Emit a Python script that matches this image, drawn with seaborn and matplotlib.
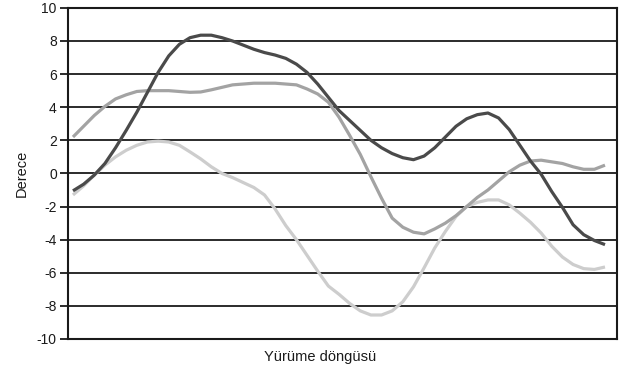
import matplotlib
matplotlib.use("Agg")
import matplotlib.pyplot as plt
import seaborn as sns
import pandas as pd

# gait cycle (%) sample positions
cycle = list(range(0, 101, 2))

dark = [-1.05, -0.65, -0.1, 0.6, 1.55, 2.6, 3.7, 4.9, 6.1, 7.1,
        7.8, 8.2, 8.35, 8.35, 8.2, 8.0, 7.75, 7.5, 7.3, 7.15,
        6.95, 6.6, 6.1, 5.4, 4.6, 3.8, 3.2, 2.6, 2.0, 1.55,
        1.2, 0.95, 0.83, 1.05, 1.55, 2.2, 2.85, 3.3, 3.55, 3.65,
        3.35, 2.65, 1.7, 0.75, -0.05, -1.1, -2.05, -3.1, -3.7, -4.05,
        -4.3]
medium = [2.2, 2.85, 3.5, 4.05, 4.5, 4.75, 4.95, 5.0, 5.0, 5.0,
          4.95, 4.9, 4.92, 5.05, 5.2, 5.35, 5.4, 5.45, 5.45, 5.45,
          5.4, 5.35, 5.1, 4.8, 4.3, 3.4, 2.3, 1.15, -0.2, -1.5,
          -2.7, -3.25, -3.55, -3.65, -3.35, -3.0, -2.55, -2.0, -1.45, -1.0,
          -0.45, 0.1, 0.5, 0.75, 0.8, 0.7, 0.6, 0.4, 0.25, 0.25,
          0.5]
light = [-1.3, -0.75, -0.1, 0.5, 1.0, 1.4, 1.7, 1.9, 1.95, 1.9,
         1.7, 1.3, 0.88, 0.4, 0.0, -0.25, -0.55, -0.85, -1.3, -2.15,
         -3.15, -4.0, -4.95, -5.9, -6.8, -7.3, -7.85, -8.3, -8.55, -8.55,
         -8.3, -7.75, -6.85, -5.7, -4.5, -3.5, -2.6, -2.0, -1.75, -1.6,
         -1.6, -1.9, -2.4, -2.95, -3.6, -4.4, -5.05, -5.5, -5.75, -5.8,
         -5.65]

y_ticks = list(range(-10, 11, 2))

sns.set_theme(style="white")
plt.rcParams["font.family"] = ["Liberation Sans", "DejaVu Sans"]

fig = plt.figure(figsize=(6.22, 3.75), dpi=100)
ax = fig.add_axes([0.1093, 0.096, 0.8827, 0.883])

# horizontal rules at every tick
for ys in y_ticks:
    ax.axhline(ys, color="#1a1a1a", lw=1.3, zorder=1)

series = [("light", light, "#cdcdcd"), ("medium", medium, "#a3a3a3"), ("dark", dark, "#4a4a4a")]
for name, vals, col in series:
    df = pd.DataFrame({"cycle": cycle, "deg": vals})
    sns.lineplot(data=df, x="cycle", y="deg", color=col, lw=2.3, ax=ax, zorder=3,
                 solid_capstyle="butt", solid_joinstyle="round")

ax.set_xlim(-0.94, 102.26)
ax.set_ylim(-10, 10)
ax.set_yticks(y_ticks)
ax.set_xticks([])
ax.tick_params(axis="y", left=True, length=6, width=1.3, color="#1a1a1a",
               labelsize=10, pad=2, labelcolor="#1a1a1a")
ax.set_yticklabels([str(v) for v in y_ticks])

for side in ["left", "bottom", "right", "top"]:
    ax.spines[side].set_visible(True)
    ax.spines[side].set_color("#1a1a1a")
    ax.spines[side].set_linewidth(1.5)

ax.set_xlabel("Yürüme döngüsü", fontsize=10.5, color="#1a1a1a", labelpad=8, x=0.46)
ax.set_ylabel("Derece", fontsize=10.5, color="#1a1a1a", labelpad=6)

fig.savefig("out.png", dpi=100)
